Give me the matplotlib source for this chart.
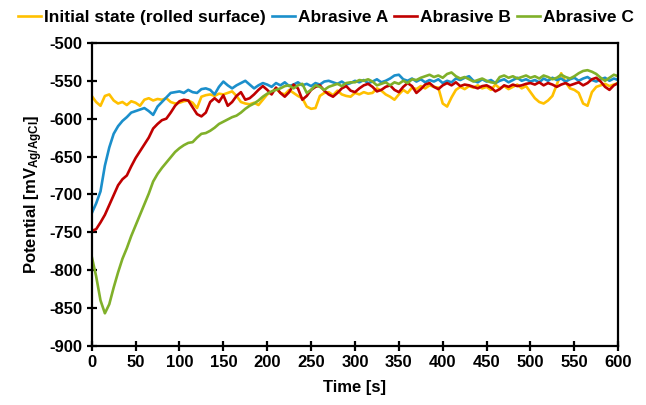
import numpy as np
import matplotlib
matplotlib.use('Agg')
import matplotlib.pyplot as plt

plt.rcParams['font.family'] = ['Liberation Sans', 'DejaVu Sans']
plt.rcParams['font.weight'] = 'bold'
plt.rcParams['axes.unicode_minus'] = False
plt.rcParams['mathtext.fontset'] = 'custom'
plt.rcParams['mathtext.rm'] = 'Liberation Sans:bold'
plt.rcParams['mathtext.bf'] = 'Liberation Sans:bold'
plt.rcParams['mathtext.default'] = 'bf'

# time axis, 5 s steps
time_s = list(range(0, 605, 5))

initial_state = [
    -570, -578, -583, -570, -568, -576, -580, -578, -582, -577, -579, -583, -575, -573, -576, -574,
    -575, -573, -578, -580, -579, -577, -576, -579, -586, -571, -569, -568, -570, -567, -568, -566,
    -564, -570, -578, -580, -581, -579, -582, -575, -568,
    -565, -560, -566, -568, -562, -566, -570, -573, -584, -587, -586, -570, -566, -565, -569, -563,
    -568, -570, -571, -566, -568, -565, -567, -566, -560, -563, -568, -571, -575, -568, -562, -566,
    -559, -561, -557, -560, -556, -558, -559, -580, -584, -572, -562, -558, -561, -557, -559, -556,
    -560, -558, -562, -555, -560, -557, -561, -558, -555, -560, -557, -565, -573, -578, -580, -576,
    -570, -555, -540, -552, -560, -562, -566, -580, -583, -565, -558, -556, -554, -557, -555, -553]

abrasive_a = [
    -725, -712, -696, -662, -638, -620, -610, -603, -598, -592, -590, -588, -586, -590, -595, -584,
    -578, -572, -566, -565, -564, -566, -562, -565, -566, -561, -560, -562, -568, -558, -551, -556,
    -560, -556, -553, -550, -555, -560, -556, -553, -555,
    -558, -553, -556, -552, -557, -555, -552, -556, -554, -557, -553, -555, -551, -550, -552, -554,
    -551, -555, -553, -550, -552, -549, -553, -551, -548, -552, -550, -547, -543, -542, -548, -550,
    -547, -551, -548, -552, -549, -551, -548, -553, -550, -552, -547, -549, -546, -544, -550, -552,
    -548, -551, -549, -553, -550, -548, -552, -549, -546, -550, -548, -551, -549, -552, -547, -550,
    -546, -549, -547, -551, -548, -546, -550, -547, -545, -549, -551, -548, -546, -550, -547, -549]

abrasive_b = [
    -748, -746, -737, -727, -714, -701, -688, -680, -675, -663, -652, -643, -634, -625, -613, -607,
    -602, -600, -592, -583, -577, -575, -576, -585, -594, -597, -592, -578, -573, -578, -569, -583,
    -578, -570, -565, -575, -573, -568, -562, -557, -562,
    -568, -559, -566, -571, -565, -555, -560, -575, -570, -562, -558, -556, -563, -568, -571, -566,
    -560, -557, -563, -565, -560, -556, -554, -558, -564, -562, -558, -556, -562, -565, -558, -553,
    -557, -566, -561, -555, -553, -558, -561, -556, -553, -556, -552, -557, -555, -556, -558, -560,
    -557, -556, -559, -564, -561, -556, -558, -555, -557, -556, -554, -553, -555, -552, -556, -553,
    -555, -558, -555, -553, -556, -554, -552, -556, -553, -548, -546, -551, -558, -562, -556, -553]

abrasive_c = [
    -782, -808, -840, -857, -845, -823, -803, -785, -771, -755, -741, -727, -713, -699, -683, -673,
    -665, -658, -651, -644, -639, -635, -632, -631, -625, -620, -619, -616, -612, -607, -604, -601,
    -598, -596, -592, -587, -583, -580, -576, -571, -567,
    -564, -562, -560, -557, -556, -560, -556, -554, -566, -562, -556, -558, -562, -558, -556, -554,
    -557, -553, -552, -552, -549, -550, -548, -551, -556, -554, -552, -556, -552, -554, -550, -553,
    -548, -549, -546, -544, -542, -545, -543, -546, -541, -539, -544, -547, -545, -548, -551, -549,
    -547, -550, -552, -553, -545, -543, -546, -544, -547, -545, -543, -546, -544, -547, -543, -545,
    -548, -546, -542, -545, -547, -544, -540, -537, -536, -538, -541, -546, -550, -546, -542, -544]

series = [
    ('Initial state (rolled surface)', initial_state, '#FFC000'),
    ('Abrasive A', abrasive_a, '#1B8FCB'),
    ('Abrasive B', abrasive_b, '#C00000'),
    ('Abrasive C', abrasive_c, '#80B02A'),
]

fig = plt.figure(figsize=(6.46, 4.05), dpi=100)
ax = fig.add_axes([0.142, 0.146, 0.815, 0.748])

for name, vals, col in series:
    ax.plot(time_s, vals, color=col, lw=1.9, label=name)

ax.set_xlim(0, 600)
ax.set_ylim(-900, -500)
ax.set_xticks(np.arange(0, 601, 50))
ax.set_yticks(np.arange(-900, -499, 50))
for sp in ax.spines.values():
    sp.set_linewidth(1.6)
ax.tick_params(direction='inout', length=7, width=1.6, labelsize=12, pad=3)
for lab in ax.get_xticklabels() + ax.get_yticklabels():
    lab.set_fontweight('bold')

ax.set_xlabel('Time [s]', fontsize=12, fontweight='bold', labelpad=7)
ax.set_ylabel(r'Potential [mV$_{Ag/AgCl}$]', fontsize=12, fontweight='bold', labelpad=3)

fig.legend(loc='upper center', bbox_to_anchor=(0.505, 1.015), ncol=4, frameon=False,
           handlelength=1.3, handletextpad=0.2, columnspacing=0.35,
           prop={'weight': 'bold', 'size': 12.5})

fig.savefig('out.png', dpi=100)
